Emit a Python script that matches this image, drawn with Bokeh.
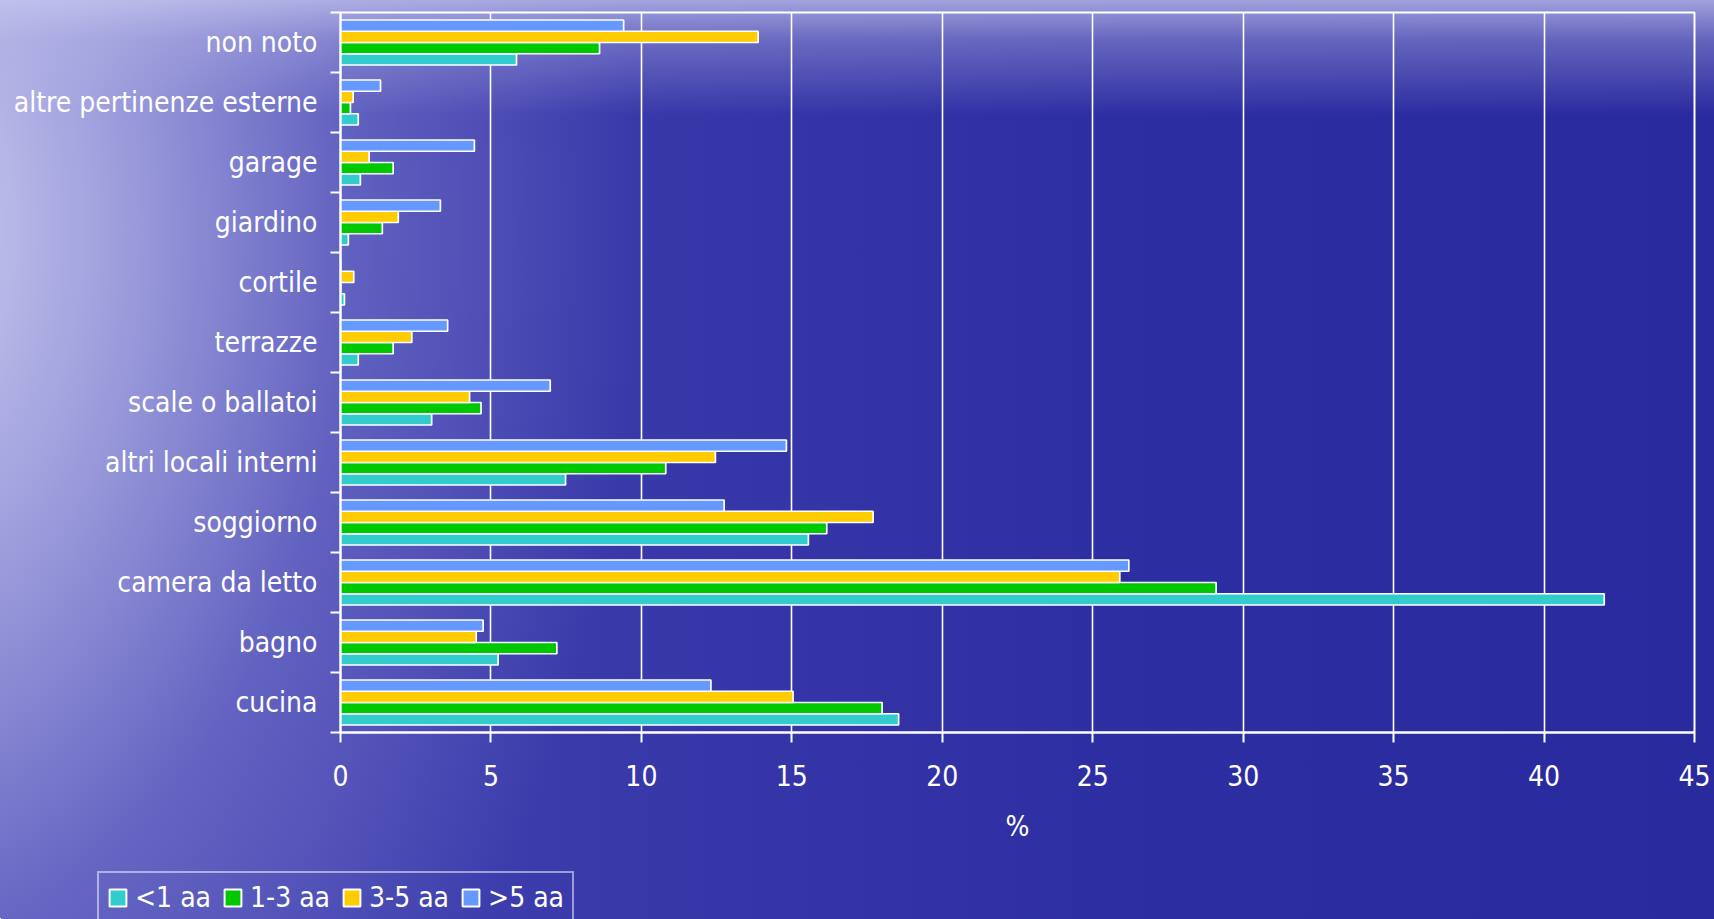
import numpy as np
from bokeh.plotting import figure
from bokeh.layouts import column
from bokeh.models import (Range1d, FixedTicker, Legend, LegendItem, InlineStyleSheet,
                          ColumnDataSource)
from bokeh.transform import dodge
from bokeh.embed import file_html
from bokeh.resources import INLINE

# ---------------- data ----------------
categories = ["cucina", "bagno", "camera da letto", "soggiorno", "altri locali interni",
              "scale o ballatoi", "terrazze", "cortile", "giardino", "garage",
              "altre pertinenze esterne", "non noto"]
series_names = ["<1 aa", "1-3 aa", "3-5 aa", ">5 aa"]
lt1_aa = [18.55, 5.24, 42.0, 15.55, 7.48, 3.03, 0.59, 0.13, 0.26, 0.66, 0.59, 5.85]
aa_1_3 = [18.0, 7.19, 29.1, 16.16, 10.81, 4.67, 1.75, 0.0, 1.39, 1.75, 0.33, 8.61]
aa_3_5 = [15.04, 4.51, 25.9, 17.7, 12.46, 4.29, 2.37, 0.44, 1.92, 0.95, 0.42, 13.88]
gt5_aa = [12.31, 4.74, 26.2, 12.75, 14.82, 6.97, 3.56, 0.0, 3.32, 4.45, 1.33, 9.41]
x_ticks = [0, 5, 10, 15, 20, 25, 30, 35, 40, 45]
x_label = "%"

colors = ["#33CCCC", "#00C800", "#FFCC00", "#6699FF"]
FONT = "DejaVu Sans Condensed, DejaVu Sans"
FS = "28px"

W = 1714
H_MAIN = 862
H_LEG = 919 - H_MAIN

pos = [i + 0.5 for i in range(len(categories))]
source = ColumnDataSource(dict(y=pos, cat=categories, s0=lt1_aa, s1=aa_1_3, s2=aa_3_5, s3=gt5_aa))
cols = ["s0", "s1", "s2", "s3"]
bar_h = 0.1875

p = figure(width=W, height=H_MAIN, x_range=Range1d(0, 45), y_range=Range1d(0, len(categories)),
           output_backend="svg", toolbar_location=None,
           min_border_left=340, min_border_right=20, min_border_top=12,
           min_border_bottom=H_MAIN - 732)

p.background_fill_color = None
p.border_fill_color = None
p.outline_line_color = "white"
p.outline_line_width = 2

for k, col in enumerate(cols):
    off = (k - 1.5) * bar_h
    p.hbar(y=dodge("y", off), right=col, left=0, height=bar_h, source=source,
           fill_color=colors[k], line_color="white", line_width=1.7)

# x axis
xa = p.xaxis[0]
xa.ticker = FixedTicker(ticks=x_ticks)
xa.axis_label = x_label
xa.axis_label_text_font = FONT
xa.axis_label_text_font_size = FS
xa.axis_label_text_font_style = "normal"
xa.axis_label_text_color = "white"
xa.axis_label_standoff = 21
xa.major_label_text_font = FONT
xa.major_label_text_font_size = FS
xa.major_label_text_color = "white"
xa.major_label_standoff = 22
xa.axis_line_color = "white"
xa.axis_line_width = 2
xa.major_tick_line_color = "white"
xa.major_tick_line_width = 2
xa.major_tick_out = 10
xa.major_tick_in = 0
xa.minor_tick_line_color = None

# y axis
ya = p.yaxis[0]
ya.ticker = FixedTicker(ticks=pos, minor_ticks=list(range(len(categories) + 1)))
ya.major_label_overrides = {v: c for v, c in zip(pos, categories)}
ya.major_label_text_font = FONT
ya.major_label_text_font_size = FS
ya.major_label_text_color = "white"
ya.major_label_standoff = 13
ya.axis_line_color = "white"
ya.axis_line_width = 2
ya.major_tick_line_color = None
ya.major_tick_out = 0
ya.major_tick_in = 0
ya.minor_tick_line_color = "white"
ya.minor_tick_line_width = 2
ya.minor_tick_out = 10
ya.minor_tick_in = 0

p.xgrid.grid_line_color = "white"
p.xgrid.grid_line_width = 1.6
p.xgrid.ticker = FixedTicker(ticks=x_ticks)
p.ygrid.grid_line_color = None

# ---------- legend strip (same series, view range kept away from the bars) ----------
q = figure(width=W, height=H_LEG, x_range=Range1d(100, 101), y_range=Range1d(100, 101),
           output_backend="svg", toolbar_location=None,
           x_axis_location=None, y_axis_location=None,
           min_border_left=0, min_border_right=0, min_border_top=0, min_border_bottom=0)
q.background_fill_color = None
q.border_fill_color = None
q.outline_line_color = None
q.xgrid.grid_line_color = None
q.ygrid.grid_line_color = None
leg_renderers = []
for k, col in enumerate(cols):
    off = (k - 1.5) * bar_h
    leg_renderers.append(q.hbar(y=dodge("y", off), right=col, left=0, height=bar_h, source=source,
                                fill_color=colors[k], line_color="white", line_width=2))

legend_x = 97
try:
    p.frame_align = False
    q.frame_align = False
except Exception:
    legend_x = 97 - 340

legend = Legend(items=[LegendItem(label=n, renderers=[r]) for n, r in zip(series_names, leg_renderers)],
                orientation="horizontal", location=(legend_x, -5),
                label_text_font=FONT, label_text_font_size=FS, label_text_color="white",
                border_line_color="white", border_line_width=2, background_fill_alpha=0,
                glyph_width=21, glyph_height=21, label_standoff=7, spacing=11, padding=8,
                margin=0)
q.add_layout(legend, "center")

layout = column(p, q, spacing=0)
css = """
:host {
  background:
    linear-gradient(to bottom, rgba(200,200,240,0.75) 0px, rgba(185,185,232,0.40) 40px, rgba(170,170,225,0.0) 115px),
    radial-gradient(ellipse 760px 1150px at -120px 230px, rgba(222,222,247,0.92) 0%, rgba(190,190,236,0.75) 30%, rgba(140,140,214,0.42) 62%, rgba(110,110,200,0.0) 100%),
    linear-gradient(to right, #4c4cb7 0%, #3939aa 35%, #2e2ea3 65%, #2a2a9f 100%);
}
"""
layout.stylesheets = [InlineStyleSheet(css=css)]

open("out.html", "w").write(file_html(layout, INLINE))
